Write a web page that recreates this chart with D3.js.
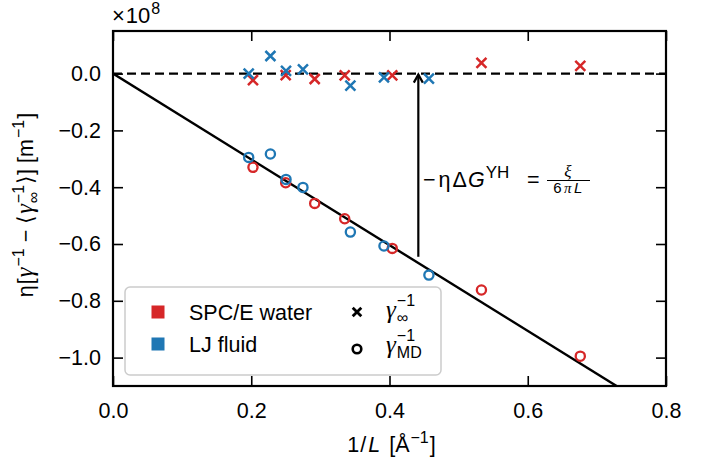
<!DOCTYPE html>
<html lang="en">
<head>
<meta charset="UTF-8">
<script src="https://d3js.org/d3.v7.min.js"></script>
<style>
  body { margin: 0; background: #fff; }
</style>
</head>
<body>
<div id="chart"></div>
<script>
// data (y in units of 1e8 m^-1)
var xWater   = [0.2025, 0.2498, 0.2918, 0.3352, 0.404, 0.533, 0.676];
var infWater = [-0.023, -0.005, -0.019, -0.006, -0.006, 0.038, 0.027];
var mdWater  = [-0.330, -0.3845, -0.457, -0.511, -0.6155, -0.762, -0.995];
var xLJ   = [0.1963, 0.2277, 0.2503, 0.2748, 0.3434, 0.392, 0.457];
var infLJ = [0.0, 0.062, 0.01, 0.015, -0.042, -0.013, -0.018];
var mdLJ  = [-0.295, -0.283, -0.3725, -0.4007, -0.558, -0.607, -0.7095];
var fitSlope = -1.51;
var arrowX = 0.4417, arrowY0 = -0.645;
var xTicks = [0.0, 0.2, 0.4, 0.6, 0.8];
var yTicks = [0.0, -0.2, -0.4, -0.6, -0.8, -1.0];

var red = "#d62728", blue = "#1f77b4";
var W = 710, H = 461;
var margin = {top: 31, right: 44, bottom: 75, left: 113};
var width = W - margin.left - margin.right,
    height = H - margin.top - margin.bottom;
var fs = 21.5, ss = 16;

var svg = d3.select("#chart").append("svg")
  .attr("width", W).attr("height", H)
  .attr("font-family", "Liberation Sans, Arial, sans-serif");
var g = svg.append("g")
  .attr("transform", "translate(" + margin.left + "," + margin.top + ")");

var x = d3.scaleLinear().domain([0, 0.8]).range([0, width]);
var y = d3.scaleLinear().domain([-1.1, 0.15]).range([height, 0]);

svg.append("defs").append("clipPath").attr("id", "clip")
  .append("rect").attr("width", width).attr("height", height);

var plot = g.append("g").attr("clip-path", "url(#clip)");

// zero line
plot.append("line")
  .attr("x1", 0).attr("x2", width)
  .attr("y1", y(0)).attr("y2", y(0))
  .attr("stroke", "#000").attr("stroke-width", 2.2)
  .attr("stroke-dasharray", "9,5");

// fit line
plot.append("line")
  .attr("x1", x(0)).attr("y1", y(0))
  .attr("x2", x(0.8)).attr("y2", y(fitSlope * 0.8))
  .attr("stroke", "#000").attr("stroke-width", 2.4);

// arrow
plot.append("line")
  .attr("x1", x(arrowX)).attr("x2", x(arrowX))
  .attr("y1", y(arrowY0)).attr("y2", y(0) + 1)
  .attr("stroke", "#000").attr("stroke-width", 2.2);
plot.append("path")
  .attr("d", "M" + (x(arrowX) - 4.5) + "," + (y(0) + 9) +
             "L" + x(arrowX) + "," + (y(0) + 1) +
             "L" + (x(arrowX) + 4.5) + "," + (y(0) + 9))
  .attr("fill", "none").attr("stroke", "#000").attr("stroke-width", 2.2);

function crossPath(cx, cy, s) {
  return "M" + (cx - s) + "," + (cy - s) + "L" + (cx + s) + "," + (cy + s) +
         "M" + (cx - s) + "," + (cy + s) + "L" + (cx + s) + "," + (cy - s);
}

function drawSeries(xs, infs, mds, col) {
  plot.selectAll(null).data(xs).enter().append("path")
    .attr("d", function(d, i) { return crossPath(x(d), y(infs[i]), 5); })
    .attr("stroke", col).attr("stroke-width", 2.5).attr("fill", "none");
  plot.selectAll(null).data(xs).enter().append("circle")
    .attr("cx", function(d) { return x(d); })
    .attr("cy", function(d, i) { return y(mds[i]); })
    .attr("r", 4.6)
    .attr("fill", "none").attr("stroke", col).attr("stroke-width", 2.3);
}
drawSeries(xWater, infWater, mdWater, red);
drawSeries(xLJ, infLJ, mdLJ, blue);

// axes, ticks inward on all sides
var fmt = d3.format(".1f");
var xb = g.append("g").attr("transform", "translate(0," + height + ")")
  .call(d3.axisBottom(x).tickValues(xTicks).tickSize(-10).tickPadding(17).tickFormat(fmt));
var xt = g.append("g")
  .call(d3.axisTop(x).tickValues(xTicks).tickSize(-10).tickFormat(""));
var yl = g.append("g")
  .call(d3.axisLeft(y).tickValues(yTicks).tickSize(-10).tickPadding(12).tickFormat(fmt));
var yr = g.append("g").attr("transform", "translate(" + width + ",0)")
  .call(d3.axisRight(y).tickValues(yTicks).tickSize(-10).tickFormat(""));
[xb, xt, yl, yr].forEach(function(a) {
  a.select(".domain").remove();
  a.selectAll(".tick line").attr("stroke-width", 1.6);
  a.selectAll("text").attr("font-size", fs).attr("font-family", null).attr("fill", "#000");
});
g.append("rect").attr("width", width).attr("height", height)
  .attr("fill", "none").attr("stroke", "#000").attr("stroke-width", 2.2);

// small mathtext-like helper: parts laid out left to right, stacks for sup/sub
function mathText(parent, px, py, parts, anchor, transform) {
  var grp = parent.append("g");
  var inner = grp.append("g");
  var cx = 0;
  parts.forEach(function(p) {
    var items = p.stack ? p.stack : [p];
    var maxw = 0;
    items.forEach(function(q) {
      var t = inner.append("text").attr("x", cx).attr("y", -(q.rise || 0))
        .attr("font-size", q.size || fs).text(q.t);
      if (q.italic) t.attr("font-style", "italic");
      if (q.serif) t.attr("font-family", "Liberation Serif, serif");
      maxw = Math.max(maxw, t.node().getComputedTextLength());
    });
    cx += maxw + (p.gap || 0);
  });
  var shift = anchor === "middle" ? -cx / 2 : 0;
  inner.attr("transform", "translate(" + shift + ",0)");
  grp.attr("transform", "translate(" + px + "," + py + ")" + (transform || ""));
  return cx;
}
var gam = {t: "\u03b3", italic: true, serif: true, size: fs + 3, gap: 1};
var supM1 = {t: "\u22121", size: ss, rise: 9};
function sup(gap) { return {t: "\u22121", size: ss, rise: 9, gap: gap}; }

// offset label
mathText(svg, margin.left - 1, 23, [{t: "\u00d7", size: 22, gap: 1}, {t: "10", size: 22, gap: 1}, {t: "8", size: 16, rise: 9}]);

// x label
mathText(svg, margin.left + width / 2 + 2, 452, [
  {t: "1", gap: 1}, {t: "/", gap: 2}, {t: "L", italic: true, gap: 9}, {t: "[\u00c5", gap: 1},
  sup(1), {t: "]"}
], "middle");

// y label
mathText(svg, 33, 205, [
  {t: "\u03b7", gap: 1}, {t: "[", gap: 1}, gam, sup(6), {t: "\u2212", gap: 6}, {t: "\u27e8", gap: 1}, gam,
  {stack: [supM1, {t: "\u221e", size: ss, rise: -6}], gap: 1},
  {t: "\u27e9]", gap: 6}, {t: "[m", gap: 1}, sup(1), {t: "]"}
], "middle", " rotate(-90)");

// annotation
mathText(svg, 423, 187, [
  {t: "\u2212", gap: 3}, {t: "\u03b7", gap: 2}, {t: "\u0394", gap: 1}, {t: "G", italic: true, gap: 1},
  {t: "YH", size: 17, rise: 9}
]);
svg.append("text").attr("x", 527).attr("y", 187).attr("font-size", fs).text("=");
var fx = 568;
svg.append("line").attr("x1", fx - 21).attr("x2", fx + 22).attr("y1", 180.5).attr("y2", 180.5)
  .attr("stroke", "#000").attr("stroke-width", 1);
svg.append("text").attr("x", fx).attr("y", 177).attr("text-anchor", "middle")
  .attr("font-size", 17).attr("font-family", "Liberation Serif, serif").attr("font-style", "italic").text("\u03be");
var den = svg.append("text").attr("x", fx + 1).attr("y", 192.5).attr("text-anchor", "middle")
  .attr("font-size", 15).attr("letter-spacing", 2.5);
den.append("tspan").text("6");
den.append("tspan").attr("font-family", "Liberation Serif, serif").attr("font-style", "italic").text("\u03c0");
den.append("tspan").attr("font-style", "italic").text("L");

// legend
var leg = svg.append("g");
leg.append("rect").attr("x", 125).attr("y", 287).attr("width", 316).attr("height", 88)
  .attr("rx", 5).attr("fill", "#fff").attr("fill-opacity", 0.8)
  .attr("stroke", "#ccc").attr("stroke-width", 1.5);
var legCols = [red, blue], legNames = ["SPC/E water", "LJ fluid"], legY = [312, 344];
legCols.forEach(function(c, i) {
  leg.append("rect").attr("x", 151.5).attr("y", legY[i] - 6.5).attr("width", 13).attr("height", 13).attr("fill", c);
  leg.append("text").attr("x", 189).attr("y", legY[i] + 7.5).attr("font-size", fs).text(legNames[i]);
});
leg.append("path").attr("d", crossPath(357, 312, 4.3))
  .attr("stroke", "#000").attr("stroke-width", 2.8).attr("fill", "none");
leg.append("circle").attr("cx", 357).attr("cy", 349).attr("r", 4.3)
  .attr("stroke", "#000").attr("stroke-width", 2.6).attr("fill", "none");
[[318, "\u221e"], [353, "MD"]].forEach(function(p) {
  mathText(leg, 386, p[0], [
    {t: "\u03b3", italic: true, serif: true, size: 25, gap: 1},
    {stack: [{t: "\u22121", size: ss, rise: 12}, {t: p[1], size: ss, rise: -5}]}
  ]);
});
</script>
</body>
</html>
